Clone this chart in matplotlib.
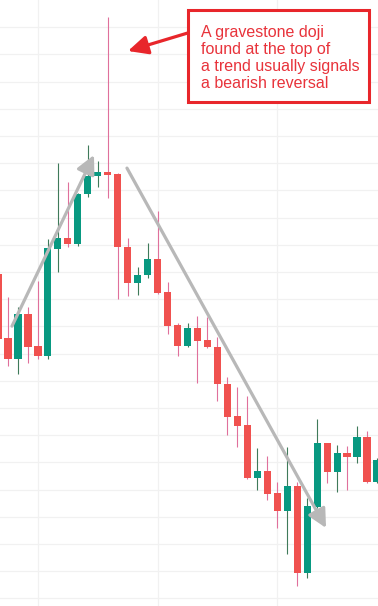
import matplotlib
matplotlib.use("Agg")
import matplotlib.pyplot as plt
from matplotlib.patches import Rectangle
import numpy as np

# candle data (index -1 is the partially visible candle on the left edge)
idx    = list(range(-1, 38))
opens  = [199.3, 175.7, 168.0, 184.6, 172.8, 169.1, 208.5, 212.5, 210.3, 228.7,
          235.3, 236.8, 236.0, 209.2, 196.0, 198.9, 204.8, 192.6, 180.5, 172.8,
          179.4, 175.0, 172.4, 158.8, 147.1, 143.75, 124.3, 126.8, 118.75, 112.1,
          121.3, 89.3, 113.6, 137.1, 126.5, 133.5, 132.0, 139.3, 122.8]
highs  = [200.7, 190.8, 187.1, 187.1, 196.7, 212.1, 240.1, 233.1, 229.0, 246.7,
          240.8, 293.75, 236.3, 212.5, 201.8, 210.7, 222.4, 196.3, 181.25, 181.25,
          183.8, 183.5, 176.1, 161.4, 157.7, 154.4, 135.3, 132.4, 122.8, 135.7,
          122.8, 116.9, 146.0, 137.3, 136.4, 136.0, 143.4, 141.5, 131.5]
lows   = [173.2, 165.4, 162.5, 166.5, 168.0, 168.0, 200.0, 209.2, 209.6, 227.6,
          231.25, 227.2, 190.1, 191.2, 191.5, 197.8, 192.0, 177.2, 169.1, 172.5,
          159.2, 172.0, 152.6, 140.1, 135.7, 124.0, 119.85, 116.2, 105.9, 96.3,
          84.6, 87.5, 113.2, 122.4, 119.1, 119.85, 129.8, 122.5, 122.5]
closes = [175.4, 168.0, 184.6, 172.4, 169.1, 208.8, 212.5, 210.3, 228.7, 235.3,
          236.8, 235.7, 209.2, 196.0, 198.9, 204.8, 192.3, 180.1, 172.8, 179.4,
          174.6, 172.4, 158.8, 146.7, 143.4, 124.3, 126.8, 118.4, 112.1, 121.3,
          89.3, 114.0, 137.1, 126.5, 133.5, 132.0, 139.3, 122.8, 130.9]

note_text = "A gravestone doji\nfound at the top of\na trend usually signals\na bearish reversal"

UP = "#089981"
DOWN = "#f0514f"
UP_WICK = "#3f7a5a"
DOWN_WICK = "#e0709c"
GRID = "#f1f1f1"

fig = plt.figure(figsize=(3.78, 6.06), dpi=100)
ax = fig.add_axes([0, 0, 1, 1])
ax.set_xlim(-0.802, 37.10)
ax.set_ylim(77.21, 300)

for s in ax.spines.values():
    s.set_visible(False)
ax.set_xticks([3, 15, 27])
ax.set_yticks(np.arange(80, 300, 10))
ax.tick_params(length=0, labelbottom=False, labelleft=False)
ax.grid(True, color=GRID, linewidth=0.9)
ax.set_axisbelow(True)

x = np.array(idx)
o = np.array(opens); h = np.array(highs); l = np.array(lows); c = np.array(closes)
up = c >= o
ax.vlines(x[up], l[up], h[up], color=UP_WICK, linewidth=0.8, zorder=2)
ax.vlines(x[~up], l[~up], h[~up], color=DOWN_WICK, linewidth=0.8, zorder=2)
bottoms = np.minimum(o, c)
heights = np.maximum(np.abs(c - o), 1.0)
ax.bar(x[up], heights[up], bottom=bottoms[up], width=0.72, color=UP, linewidth=0, zorder=3)
ax.bar(x[~up], heights[~up], bottom=bottoms[~up], width=0.72, color=DOWN, linewidth=0, zorder=3)

# trend arrows
gray = "#b8b8b8"
ax.annotate("", xy=(8.62, 243.0), xytext=(0.40, 180.1),
            arrowprops=dict(arrowstyle="-|>,head_length=0.75,head_width=0.38",
                            mutation_scale=15, color=gray, lw=2.3,
                            shrinkA=0, shrinkB=0), zorder=5)
ax.annotate("", xy=(31.89, 105.9), xytext=(11.93, 238.2),
            arrowprops=dict(arrowstyle="-|>,head_length=0.75,head_width=0.38",
                            mutation_scale=15, color=gray, lw=2.3,
                            shrinkA=0, shrinkB=0), zorder=5)

# annotation box and arrow
red = "#e8262b"
box = Rectangle((188 / 378, 1 - 102 / 606), (369 - 188) / 378, (102 - 10) / 606,
                transform=ax.transAxes, fill=True, facecolor="white",
                edgecolor=red, linewidth=2.2, zorder=6)
ax.add_patch(box)
ax.text(200.5 / 378, 1 - 24.5 / 606, note_text, transform=ax.transAxes,
        ha="left", va="top", fontsize=11.5, color="#e8333b",
        family="Liberation Sans", linespacing=1.17, zorder=7)
ax.annotate("", xy=(12.03, 281.25), xytext=(18.05, 287.9),
            arrowprops=dict(arrowstyle="-|>,head_length=0.8,head_width=0.38",
                            mutation_scale=15, color=red, lw=2.3,
                            shrinkA=0, shrinkB=0), zorder=6)

fig.savefig("out.png", dpi=100)
